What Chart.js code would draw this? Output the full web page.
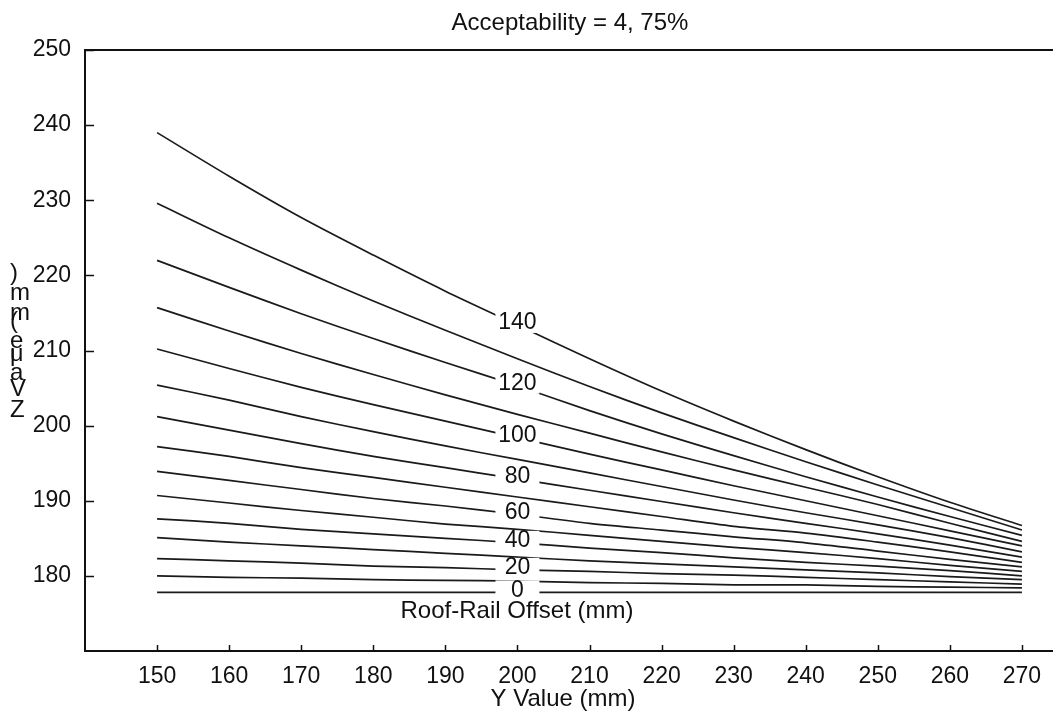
<!DOCTYPE html>
<html>
<head>
<meta charset="utf-8">
<script src="https://cdn.jsdelivr.net/npm/chart.js@4.4.1/dist/chart.umd.min.js"></script>
<style>
  html, body { margin: 0; padding: 0; background: #fff; overflow: hidden; }
  #wrap { width: 1140px; height: 719px; }
</style>
</head>
<body>
<div id="wrap"><canvas id="c" width="1140" height="719"></canvas></div>
<script>
// Y value (mm) sample positions along each contour
const yValueMm = [150, 160, 170, 180, 190, 200, 210, 220, 230, 240, 250, 260, 270];

// Z value (mm) of each roof-rail offset contour at the Y positions above
const z0   = [177.8, 177.8, 177.8, 177.8, 177.8, 177.8, 177.8, 177.8, 177.8, 177.8, 177.8, 177.8, 177.8];
const z10  = [180.0, 179.8, 179.7, 179.5, 179.4, 179.3, 179.1, 179.0, 178.8, 178.8, 178.6, 178.5, 178.4];
const z20  = [182.3, 182.0, 181.7, 181.3, 181.1, 180.8, 180.6, 180.3, 180.1, 179.8, 179.5, 179.2, 178.9];
const z30  = [185.1, 184.5, 184.0, 183.5, 183.0, 182.5, 182.0, 181.6, 181.2, 180.8, 180.4, 179.9, 179.5];
const z40  = [187.6, 187.0, 186.2, 185.6, 185.0, 184.4, 183.7, 183.1, 182.4, 181.8, 181.3, 180.7, 180.0];
const z50  = [190.7, 189.7, 188.7, 187.8, 186.9, 186.2, 185.4, 184.6, 183.8, 183.1, 182.3, 181.4, 180.6];
const z60  = [193.9, 192.7, 191.5, 190.3, 189.3, 188.2, 187.0, 186.1, 185.2, 184.4, 183.3, 182.2, 181.2];
const z70  = [197.2, 195.9, 194.4, 193.1, 191.8, 190.5, 189.2, 187.9, 186.6, 185.7, 184.5, 183.2, 181.8];
const z80  = [201.2, 199.4, 197.6, 195.9, 194.4, 192.9, 191.4, 189.9, 188.4, 187.0, 185.6, 184.1, 182.5];
const z90  = [205.4, 203.4, 201.2, 199.2, 197.3, 195.5, 193.7, 191.9, 190.1, 188.4, 186.8, 185.1, 183.2];
const z100 = [210.2, 207.6, 205.1, 202.8, 200.6, 198.4, 196.2, 194.1, 192.0, 190.0, 188.0, 186.0, 184.0];
const z110 = [215.7, 212.6, 209.6, 206.8, 204.1, 201.5, 199.0, 196.5, 194.1, 191.8, 189.5, 187.0, 184.6];
const z120 = [222.0, 218.4, 214.9, 211.6, 208.4, 205.3, 202.0, 198.9, 196.0, 193.2, 190.5, 187.9, 185.4];
const z130 = [229.6, 225.0, 220.7, 216.6, 212.7, 208.9, 205.2, 201.7, 198.4, 195.2, 192.1, 189.1, 186.1];
const z140 = [239.0, 233.2, 227.7, 222.7, 217.9, 213.4, 208.9, 204.6, 200.6, 196.8, 193.2, 189.8, 186.7];

const offsets = [0, 10, 20, 30, 40, 50, 60, 70, 80, 90, 100, 110, 120, 130, 140];
const contours = [z0, z10, z20, z30, z40, z50, z60, z70, z80, z90, z100, z110, z120, z130, z140];

// contours that carry an inline value label, and where along Y it sits
const labelledOffsets = [0, 20, 40, 60, 80, 100, 120, 140];
const labelAtY = 200;

// axis ticks
const xTickLabels = [150, 160, 170, 180, 190, 200, 210, 220, 230, 240, 250, 260, 270];
const yTickLabels = [180, 190, 200, 210, 220, 230, 240, 250];

const titleText = 'Acceptability = 4, 75%';
const xTitleText = 'Y Value (mm)';
const yTitleText = 'Z Value (mm)';
const contourTitleText = 'Roof-Rail Offset (mm)';

const FONT = '"Liberation Sans", Arial, sans-serif';
const INK = '#111';

const datasets = contours.map((z, i) => ({
  label: String(offsets[i]),
  data: yValueMm.map((yv, k) => ({ x: yv, y: z[k] })),
  borderColor: '#1a1a1a',
  borderWidth: 1.7,
  pointRadius: 0,
  fill: false,
  tension: 0.3
}));

const decor = {
  id: 'decor',
  afterDatasetsDraw(chart) {
    const { ctx, scales: { x, y } } = chart;
    const k = yValueMm.indexOf(labelAtY);
    ctx.save();
    ctx.font = '23px ' + FONT;
    ctx.textAlign = 'center';
    ctx.textBaseline = 'middle';
    labelledOffsets.forEach(o => {
      const z = contours[offsets.indexOf(o)][k];
      const px = x.getPixelForValue(labelAtY);
      const py = y.getPixelForValue(z);
      ctx.fillStyle = '#fff';
      ctx.fillRect(px - 22, py - 12, 44, 20);
      ctx.fillStyle = INK;
      ctx.fillText(String(o), px, py - 2);
    });
    ctx.restore();
  },
  afterDraw(chart) {
    const { ctx, chartArea: a, scales: { x, y } } = chart;
    ctx.save();
    // plot frame
    ctx.strokeStyle = INK;
    ctx.lineWidth = 2;
    ctx.strokeRect(a.left, a.top, a.right - a.left, a.bottom - a.top);
    // inward tick marks
    ctx.lineWidth = 1.5;
    ctx.beginPath();
    yTickLabels.forEach(v => {
      const py = Math.round(y.getPixelForValue(v)) + 0.5;
      ctx.moveTo(a.left, py); ctx.lineTo(a.left + 9, py);
    });
    xTickLabels.forEach(v => {
      const px = Math.round(x.getPixelForValue(v)) + 0.5;
      ctx.moveTo(px, a.bottom); ctx.lineTo(px, a.bottom - 6);
    });
    ctx.stroke();

    ctx.fillStyle = INK;
    ctx.font = '24px ' + FONT;
    ctx.textBaseline = 'alphabetic';
    ctx.textAlign = 'center';
    // chart title, centred on the full figure width
    ctx.fillText(titleText, chart.width / 2, 30);
    // contour set caption
    ctx.fillText(contourTitleText, 517, 618);
    // x axis title
    ctx.fillText(xTitleText, 563, 706);
    // y axis title: upright glyphs stacked along the axis direction
    ctx.textAlign = 'left';
    let by = 417;
    for (const ch of yTitleText) {
      ctx.fillText(ch, 10, by);
      by -= ctx.measureText(ch).width;
    }
    ctx.restore();
  }
};

new Chart(document.getElementById('c'), {
  type: 'line',
  data: { datasets },
  plugins: [decor],
  options: {
    responsive: false,
    animation: false,
    events: [],
    layout: { padding: { left: 0, top: 50, right: 46, bottom: 0 } },
    plugins: {
      legend: { display: false },
      tooltip: { enabled: false },
      title: { display: false }
    },
    scales: {
      x: {
        type: 'linear',
        min: 140,
        max: 280,
        afterFit(scale) { scale.height = 68; },
        grid: { display: false, drawTicks: false },
        border: { display: false },
        ticks: {
          stepSize: 10,
          autoSkip: false,
          maxRotation: 0,
          padding: 12,
          color: INK,
          font: { family: FONT, size: 23 },
          callback: v => (xTickLabels.includes(v) ? String(v) : '')
        }
      },
      y: {
        type: 'linear',
        min: 170,
        max: 250,
        afterFit(scale) { scale.width = 85; },
        grid: { display: false, drawTicks: false },
        border: { display: false },
        ticks: {
          stepSize: 10,
          padding: 14,
          color: INK,
          font: { family: FONT, size: 23 },
          callback: v => (yTickLabels.includes(v) ? String(v) : '')
        }
      }
    }
  }
});
</script>
</body>
</html>
